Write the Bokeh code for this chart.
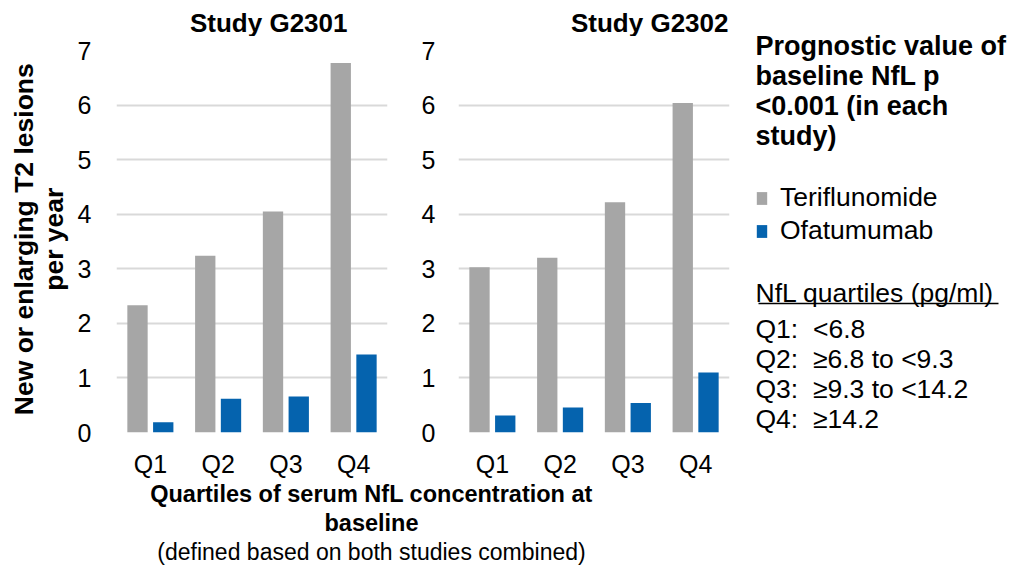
import math
from bokeh.plotting import figure
from bokeh.models import (FactorRange, Range1d, ColumnDataSource, Legend, LegendItem,
                          FixedTicker)
from bokeh.transform import dodge
from bokeh.layouts import row, column
from bokeh.embed import file_html
from bokeh.resources import INLINE
from bokeh.core.properties import value

FONT = "Liberation Sans"

# ---------------- data ----------------
quartiles = ["Q1", "Q2", "Q3", "Q4"]
series_names = ["Teriflunomide", "Ofatumumab"]
series_colors = ["#A6A6A6", "#0563AE"]
g2301_teriflunomide = [2.33, 3.24, 4.05, 6.77]
g2301_ofatumumab = [0.19, 0.62, 0.66, 1.43]
g2302_teriflunomide = [3.03, 3.20, 4.22, 6.04]
g2302_ofatumumab = [0.31, 0.46, 0.54, 1.10]
y_ticks = [0, 1, 2, 3, 4, 5, 6, 7]
study_titles = ["Study G2301", "Study G2302"]
y_title_lines = ["New or enlarging T2 lesions", "per year"]
x_title_lines = ["Quartiles of serum NfL concentration at", "baseline"]
x_subtitle = "(defined based on both studies combined)"
header_lines = ["Prognostic value of", "baseline NfL p", "<0.001 (in each", "study)"]
quartile_header = "NfL quartiles (pg/ml)"
quartile_defs = ["Q1:\u00a0 <6.8", "Q2:\u00a0 \u22656.8 to <9.3",
                 "Q3:\u00a0 \u22659.3 to <14.2", "Q4:\u00a0 \u226514.2"]

ROW_H = 480      # height of the upper block
HEAD_H = 36      # strip that holds the study titles
TOP_B = 14       # space above the plot frame inside each panel
FRAME_H = 382
PANEL_H = ROW_H - HEAD_H


def blank_fig(w, h):
    f = figure(width=w, height=h, x_range=Range1d(0, w), y_range=Range1d(h, 0),
               min_border=0, x_axis_location=None, y_axis_location=None,
               output_backend="svg", toolbar_location=None, tools="",
               frame_align=False)
    f.outline_line_color = None
    f.grid.visible = False
    return f


def make_panel(teri, ofa, border_left, border_right, label_standoff):
    src = ColumnDataSource(data=dict(q=quartiles, teri=teri, ofa=ofa))
    p = figure(x_range=FactorRange(factors=quartiles), y_range=Range1d(0, 7),
               frame_width=271, frame_height=FRAME_H,
               min_border_left=border_left, min_border_right=border_right,
               min_border_top=TOP_B, min_border_bottom=PANEL_H - TOP_B - FRAME_H,
               output_backend="svg", toolbar_location=None, tools="",
               frame_align=False)
    p.vbar(x=dodge("q", -0.19, range=p.x_range), top="teri", width=0.3, source=src,
           fill_color=series_colors[0], line_color=None)
    p.vbar(x=dodge("q", 0.19, range=p.x_range), top="ofa", width=0.3, source=src,
           fill_color=series_colors[1], line_color=None)
    p.outline_line_color = None
    p.xgrid.grid_line_color = None
    p.ygrid.grid_line_color = "#D9D9D9"
    p.ygrid.grid_line_width = 2
    p.yaxis.ticker = FixedTicker(ticks=y_ticks)
    for ax in (p.xaxis[0], p.yaxis[0]):
        ax.axis_line_color = None
        ax.major_tick_line_color = None
        ax.minor_tick_line_color = None
        ax.major_tick_out = 0
        ax.major_tick_in = 0
        ax.major_label_text_font = FONT
        ax.major_label_text_font_size = "25px"
        ax.major_label_text_color = "black"
    p.yaxis.major_label_standoff = label_standoff
    p.xaxis.major_label_standoff = 17
    return p


# y-axis title column
fy = blank_fig(70, ROW_H)
fy.text(x=[23.3, 53.3], y=[238.7, 238.7], text=y_title_lines, angle=math.pi / 2,
        text_align="center", text_baseline="middle", text_font=value(FONT),
        text_font_size="26.5px", text_font_style="bold", text_color="black")

# study titles strip
th = blank_fig(675, HEAD_H)
th.text(x=[277, 658], y=[22, 22], text=study_titles, text_align="right",
        text_baseline="middle", text_font=value(FONT), text_font_size="26px",
        text_font_style="bold", text_color="black")

p1 = make_panel(g2301_teriflunomide, g2301_ofatumumab, 46, 8, 25)
p2 = make_panel(g2302_teriflunomide, g2302_ofatumumab, 63, 16, 23)

# legend / annotation column
f3 = blank_fig(266, ROW_H)
f3.text(x=[10] * 4, y=[45, 75, 105, 135], text=header_lines, text_align="left",
        text_baseline="middle", text_font=value(FONT), text_font_size="27px",
        text_font_style="bold", text_color="black")
legend_src = ColumnDataSource(data=dict(name=series_names, color=series_colors,
                                        x=[0, 0], top=[0, 0]))
r_leg = f3.vbar(x="x", top="top", width=0, fill_color="color", line_color=None,
                source=legend_src, visible=False)
legend = Legend(items=[LegendItem(label=series_names[i], renderers=[r_leg], index=i)
                       for i in range(len(series_names))],
                location=(10, ROW_H - 246), orientation="vertical",
                glyph_width=13, glyph_height=16, label_standoff=12,
                label_height=30, spacing=2, padding=0, margin=0,
                border_line_color=None, background_fill_alpha=0,
                label_text_font=FONT, label_text_font_size="26.5px",
                label_text_color="black")
f3.add_layout(legend)
f3.text(x=[10], y=[292.6], text=[quartile_header], text_align="left",
        text_baseline="middle", text_font=value(FONT), text_font_size="26.5px",
        text_color="black")
f3.segment(x0=[13], y0=[303], x1=[253], y1=[303], line_color="black", line_width=1.5)
f3.text(x=[10] * 4, y=[328.5, 358.5, 388.5, 418.5], text=quartile_defs, text_align="left",
        text_baseline="middle", text_font=value(FONT), text_font_size="26.5px",
        text_color="black")

# bottom x-axis title
fb = blank_fig(745, 91)
fb.text(x=[371, 371], y=[13.5, 42.4], text=x_title_lines, text_align="center",
        text_baseline="middle", text_font=value(FONT), text_font_size="23.5px",
        text_font_style="bold", text_color="black")
fb.text(x=[371], y=[71.5], text=[x_subtitle], text_align="center",
        text_baseline="middle", text_font=value(FONT), text_font_size="23px",
        text_color="black")

middle = column(th, row(p1, p2, spacing=0), spacing=0)
layout = column(row(fy, middle, f3, spacing=0), fb, spacing=0)

with open("out.html", "w") as fh:
    fh.write(file_html(layout, INLINE))
